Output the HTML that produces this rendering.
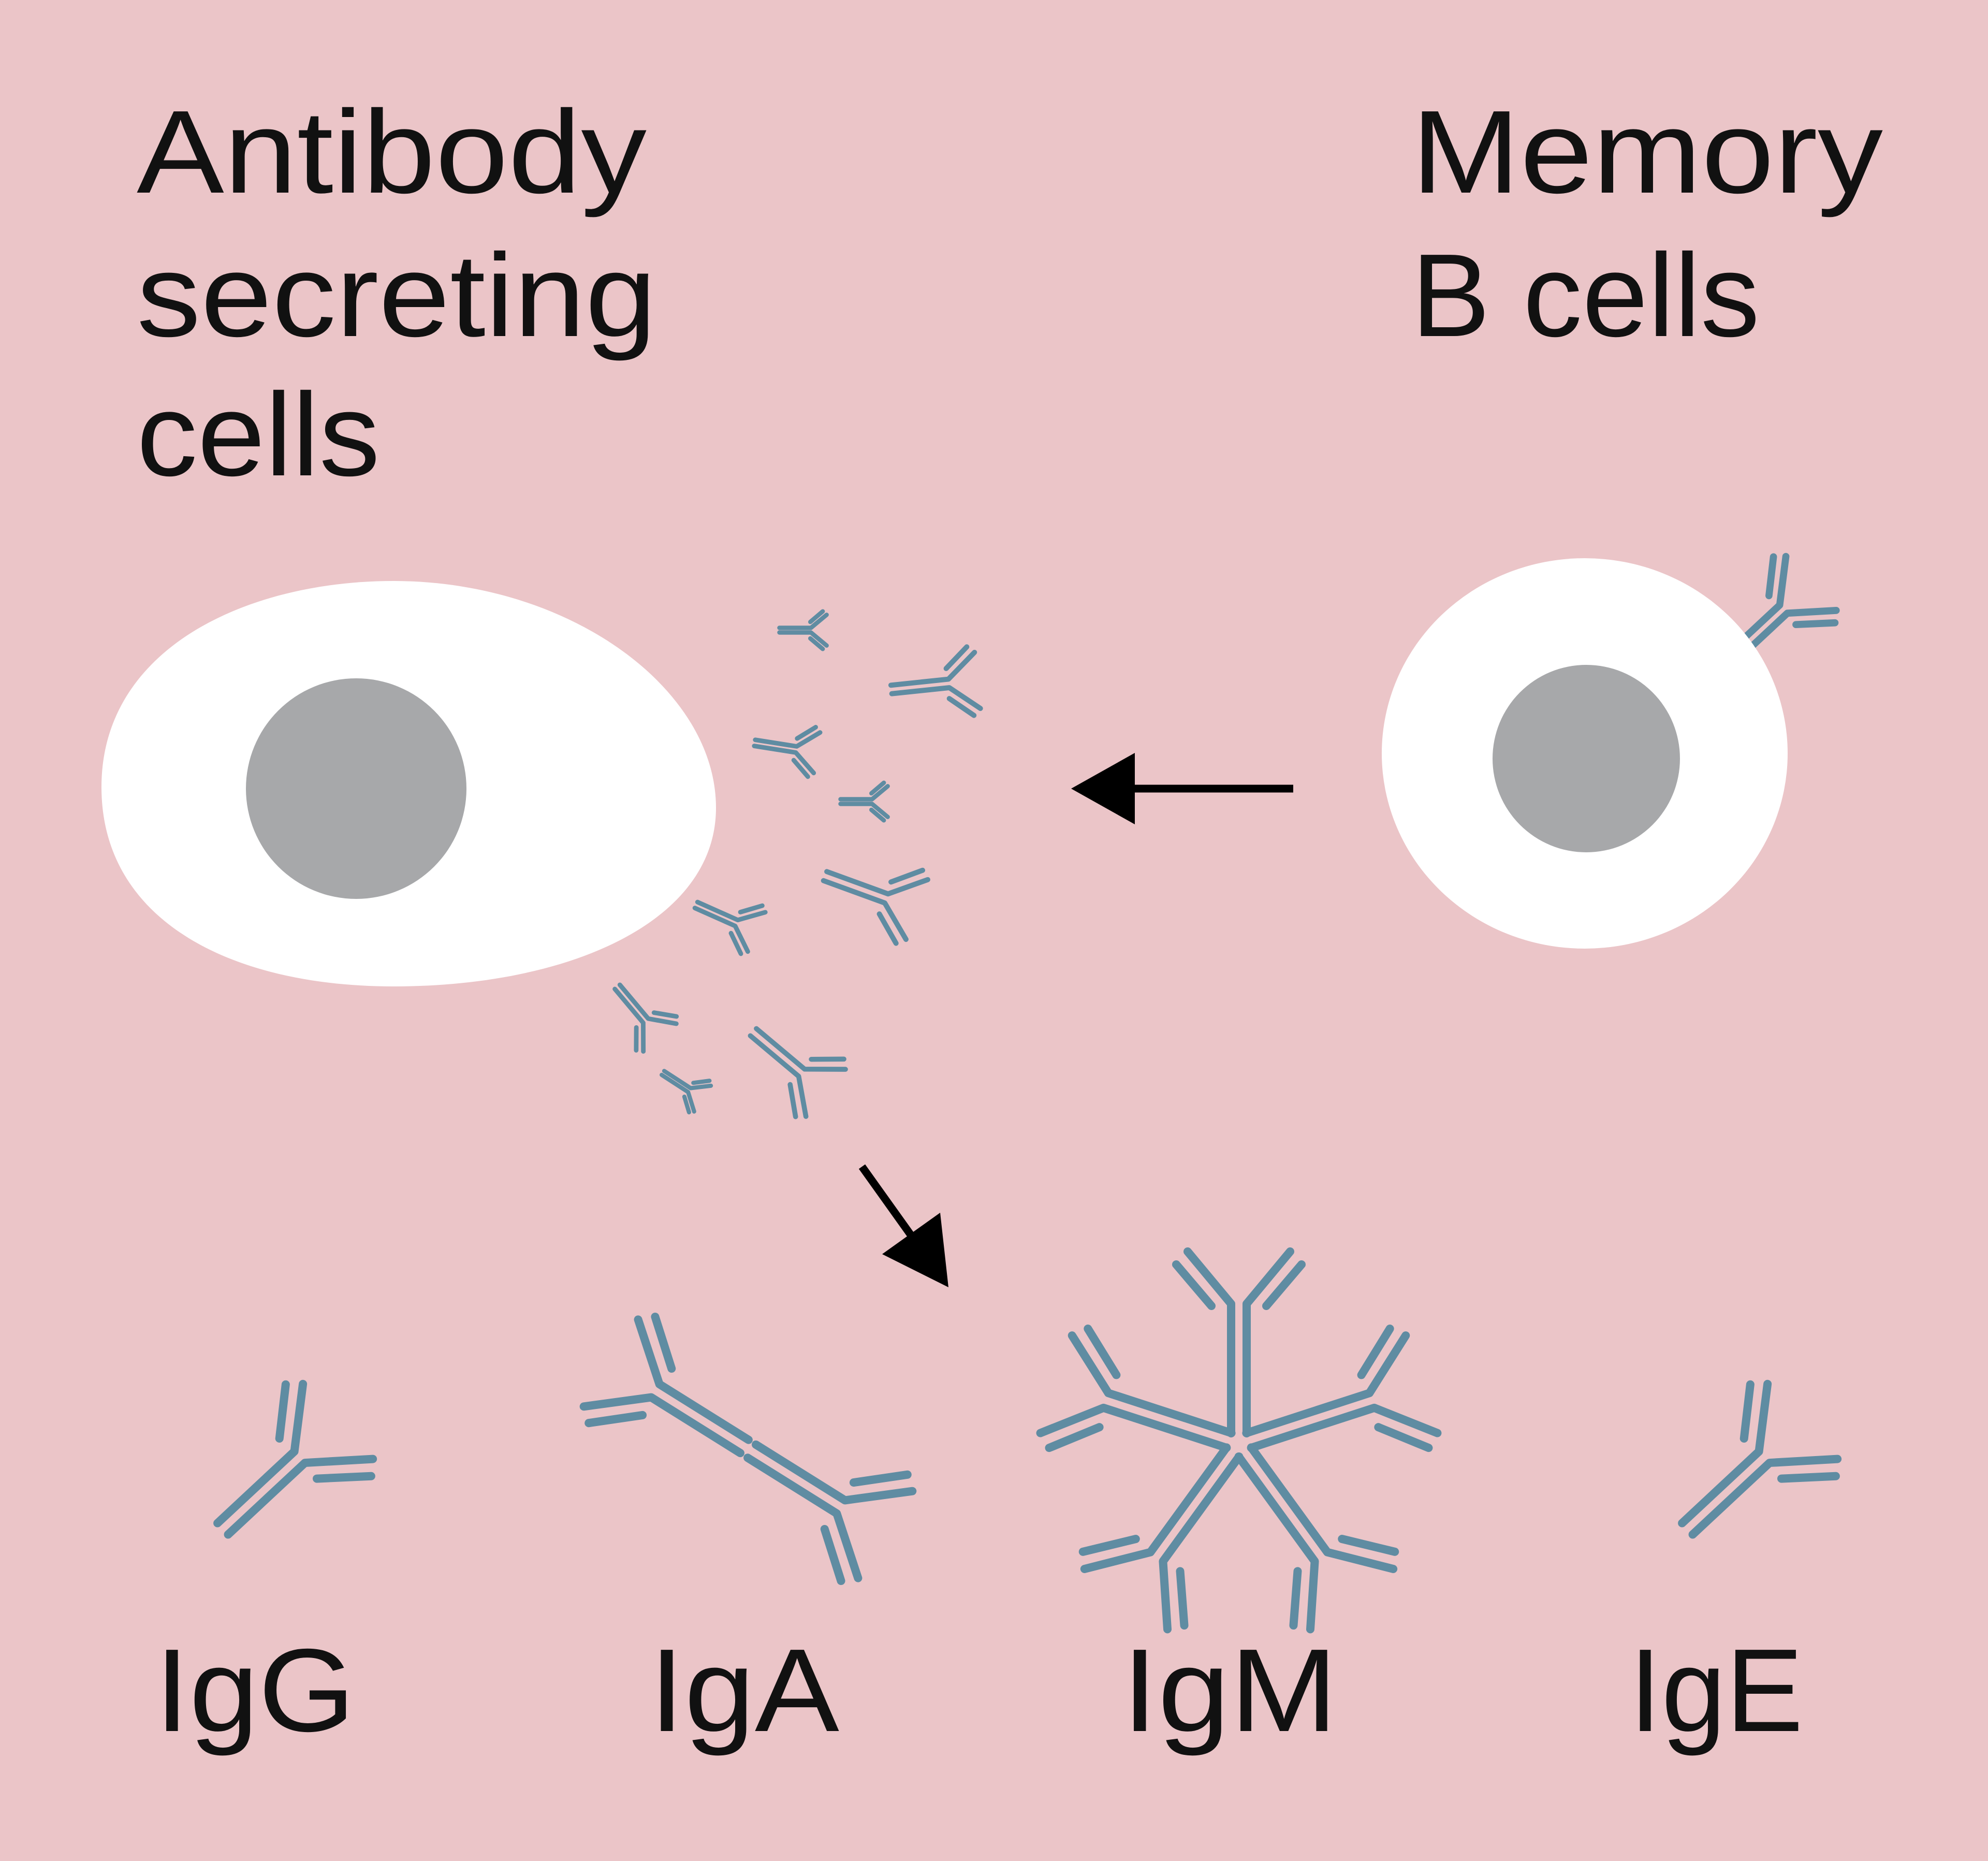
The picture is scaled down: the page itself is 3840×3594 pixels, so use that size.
<!DOCTYPE html>
<html><head><meta charset="utf-8"><style>html,body{margin:0;padding:0;background:#ebc5c8}svg{display:block}</style></head>
<body>
<svg width="3840" height="3594" viewBox="0 0 3840 3594" xmlns="http://www.w3.org/2000/svg" xmlns:xlink="http://www.w3.org/1999/xlink">
<defs>
<g id="ab" fill="none" stroke="#5f8ca2" stroke-linecap="round" stroke-linejoin="round">
<polyline points="-15,165 -15,-38 -99,-139"/>
<polyline points="15,165 15,-38 99,-139"/>
<line x1="-53" y1="-34" x2="-121" y2="-114"/>
<line x1="53" y1="-34" x2="121" y2="-114"/>
</g>
<g id="abm" fill="none" stroke="#5f8ca2" stroke-width="16" stroke-linecap="round" stroke-linejoin="round">
<polyline points="-15,212 -15,-38 -99,-139"/>
<polyline points="15,212 15,-38 99,-139"/>
<line x1="-53" y1="-34" x2="-121" y2="-114"/>
<line x1="53" y1="-34" x2="121" y2="-114"/>
</g>
</defs>
<rect width="3840" height="3594" fill="#ebc5c8"/>

<g font-family="'Liberation Sans', 'DejaVu Sans', sans-serif" font-size="228" fill="#111">
<text x="264" y="372" textLength="985" lengthAdjust="spacingAndGlyphs">Antibody</text>
<text x="264" y="649" textLength="1004" lengthAdjust="spacingAndGlyphs">secreting</text>
<text x="264" y="918" textLength="470" lengthAdjust="spacingAndGlyphs">cells</text>
<text x="2726" y="372" textLength="911" lengthAdjust="spacingAndGlyphs">Memory</text>
<text x="2726" y="649" textLength="673" lengthAdjust="spacingAndGlyphs">B cells</text>
<text x="299" y="3343" textLength="387" lengthAdjust="spacingAndGlyphs">IgG</text>
<text x="1254" y="3343" textLength="367" lengthAdjust="spacingAndGlyphs">IgA</text>
<text x="2167" y="3343" textLength="417" lengthAdjust="spacingAndGlyphs">IgM</text>
<text x="3147" y="3343" textLength="336" lengthAdjust="spacingAndGlyphs">IgE</text>
</g>

<!-- ASC cell -->
<path d="M196,1520 C196,1250 480,1122 760,1122 C1100,1122 1383,1330 1383,1560 C1383,1780 1100,1905 760,1905 C450,1905 196,1780 196,1520 Z" fill="#fff"/>
<circle cx="688" cy="1523" r="213" fill="#a7a8aa"/>

<!-- memory cell antibody (behind cell) -->
<use xlink:href="#ab" stroke-width="19" transform="translate(3425,1195) rotate(47) scale(0.72)"/>
<ellipse cx="3061" cy="1455" rx="392" ry="377" fill="#fff"/>
<circle cx="3064" cy="1465" r="181" fill="#a7a8aa"/>

<!-- secreted antibodies -->
<use xlink:href="#ab" stroke-width="28" transform="translate(1555,1217) rotate(90) scale(0.3)"/>
<use xlink:href="#ab" stroke-width="18" transform="translate(1812,1322) rotate(84) scale(0.55)"/>
<use xlink:href="#ab" stroke-width="22" transform="translate(1523,1445) rotate(99) scale(0.4)"/>
<use xlink:href="#ab" stroke-width="28" transform="translate(1673,1548) rotate(90) scale(0.3)"/>
<use xlink:href="#ab" stroke-width="16" transform="translate(1690,1727) rotate(110) scale(0.62)"/>
<use xlink:href="#ab" stroke-width="21" transform="translate(1408,1776) rotate(114) scale(0.42)"/>
<use xlink:href="#ab" stroke-width="21" transform="translate(1237,1959) rotate(140) scale(0.42)"/>
<use xlink:href="#ab" stroke-width="27" transform="translate(1322,2099) rotate(123) scale(0.3)"/>
<use xlink:href="#ab" stroke-width="16" transform="translate(1531,2057) rotate(130) scale(0.6)"/>

<!-- arrows -->
<line x1="2498" y1="1523" x2="2170" y2="1523" stroke="#000" stroke-width="15"/>
<polygon points="2069,1523 2192,1454 2192,1592" fill="#000"/>
<line x1="1665" y1="2253" x2="1760" y2="2386" stroke="#000" stroke-width="15"/>
<polygon points="1832,2486 1704,2422 1816,2342" fill="#000"/>

<!-- IgG -->
<use xlink:href="#ab" stroke-width="16" transform="translate(551,2840) rotate(47)"/>
<!-- IgA -->
<use xlink:href="#ab" stroke-width="16" transform="translate(1298,2706) rotate(-58)"/>
<use xlink:href="#ab" stroke-width="16" transform="translate(1592,2890) rotate(122)"/>
<!-- IgM -->
<g transform="translate(2393,2788)">
<use xlink:href="#abm" transform="rotate(0) translate(0,-232)"/>
<use xlink:href="#abm" transform="rotate(72) translate(0,-232)"/>
<use xlink:href="#abm" transform="rotate(144) translate(0,-232)"/>
<use xlink:href="#abm" transform="rotate(216) translate(0,-232)"/>
<use xlink:href="#abm" transform="rotate(288) translate(0,-232)"/>
</g>
<!-- IgE -->
<use xlink:href="#ab" stroke-width="16" transform="translate(3380,2840) rotate(47)"/>
</svg>
</body></html>
